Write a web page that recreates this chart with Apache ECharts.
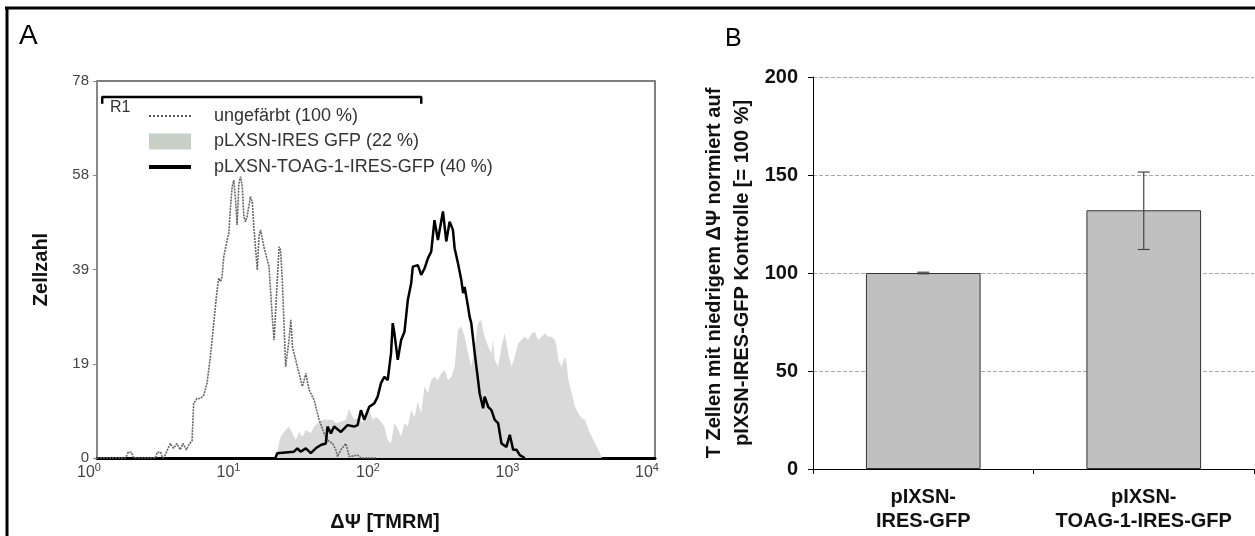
<!DOCTYPE html>
<html><head><meta charset="utf-8">
<script src="https://cdn.jsdelivr.net/npm/echarts@6/dist/echarts.min.js"></script>
<style>html,body{margin:0;padding:0;background:#fff}#c{width:1255px;height:536px}</style>
</head><body><div id="c"></div>
<script>
const FONT = '"Liberation Sans", Arial, Helvetica, sans-serif';

// ---------- Panel A: flow cytometry histogram (x: TMRM fluorescence, log) ----------
const seriesNamesA = ['ungefärbt (100 %)', 'pLXSN-IRES GFP (22 %)', 'pLXSN-TOAG-1-IRES-GFP (40 %)'];

const unstained = [
  [1.0,0],[1.6,0],[1.68,1.2],[1.76,1.2],[1.84,0],[2.62,0],[2.7,1.2],[2.86,1.2],[2.95,0],
  [3.08,0.6],[3.35,3.0],[3.54,2.0],[3.74,3.0],[3.95,1.7],[4.13,3.0],[4.37,1.7],[4.61,3.0],
  [4.8,3.5],[4.93,11.3],[5.21,12.3],[5.51,12.3],[5.82,13.0],[6.15,15.5],[6.5,21.0],
  [6.87,27.9],[7.26,34.8],[7.46,37.2],[7.67,36.5],[7.88,37.5],[8.11,41.7],[8.57,45.1],
  [8.81,46.5],[9.06,52.0],[9.31,56.1],[9.57,57.5],[9.84,53.4],[10.1,48.2],[10.4,56.8],
  [10.7,58.2],[11.0,56.1],[11.3,49.9],[11.6,48.9],[11.9,49.9],[12.6,54.1],[13.0,52.7],
  [13.3,47.9],[14.1,38.9],[14.5,45.8],[14.9,47.2],[15.7,43.7],[17.1,39.6],[18.1,28.6],
  [18.6,24.4],[19.6,36.8],[20.2,43.7],[20.7,43.0],[21.3,36.8],[22.5,18.9],[23.8,24.4],
  [24.5,28.6],[25.2,23.0],[27.3,18.9],[29.7,14.8],[31.4,17.5],[33.1,14.1],[36.0,12.0],
  [39.1,7.9],[42.5,5.1],[44.9,3.7],[48.8,3.0],[51.5,1.7],[53.0,0.3],[56.0,1.7],[60.8,3.0],
  [64.3,0.3],[73.8,0.6],[78.0,0],[100,0]
];

const ctrlGfp = [
  [19.1,0],[20.7,4.4],[22.5,5.8],[23.8,6.5],[25.1,5.1],[26.6,3.7],[28.1,5.4],[29.7,4.4],
  [31.4,5.8],[34.1,5.1],[36.0,6.5],[38.0,7.2],[41.3,7.9],[44.9,7.9],[48.8,7.9],[51.5,7.2],
  [56.0,7.5],[60.8,7.9],[64.3,10.3],[66.1,9.2],[69.8,7.9],[75.9,8.5],[80.2,7.2],[84.7,9.2],
  [89.5,9.9],[94.6,7.9],[100,8.5],[105.6,7.9],[114.8,6.5],[121.3,3.7],[128.2,3.0],[131.8,5.1],
  [135.5,7.2],[143.2,6.1],[151.4,4.4],[160.0,7.2],[169.1,6.5],[178.6,9.9],[188.8,8.5],
  [199.5,11.7],[210.8,9.2],[222.7,14.8],[235.5,13.4],[248.8,16.1],[262.5,16.8],[277.8,16.1],
  [293.5,17.5],[310.3,18.2],[328,16.1],[346.7,16.8],[366,18.9],[387,26.5],[409,27.2],
  [432,25.1],[457,21.7],[482,18.9],[510,23.0],[539,27.9],[569,28.6],[586,26.5],[601,25.1],
  [637,23.0],[672,21.7],[691,24.4],[710,20.3],[751,18.9],[793,23.0],[838,25.8],[885,21.7],
  [936,18.9],[989,21.0],[1045,23.7],[1104,24.4],[1166,25.1],[1233,24.4],[1303,25.8],
  [1377,26.1],[1455,24.4],[1538,25.1],[1625,25.8],[1718,25.1],[1815,25.1],[1918,24.4],
  [1972,23.0],[2028,20.3],[2143,18.9],[2264,21.0],[2328,19.6],[2393,16.1],[2529,13.4],
  [2673,10.6],[2825,9.2],[2985,8.2],[3155,7.9],[3334,5.8],[3523,4.4],[3723,3.0],[3935,1.7],
  [4159,0]
];

const toag = [
  [19,0],[19.6,1.0],[25.8,1.3],[27.3,2.0],[28.8,1.3],[31.4,2.0],[34.1,1.0],[37.0,2.0],
  [40.2,2.7],[43.7,3.0],[44.9,6.5],[47.5,5.1],[50.1,6.5],[56.0,5.4],[62.5,6.8],[69.8,6.5],
  [73.8,6.8],[78.0,9.9],[82.4,7.9],[89.5,10.6],[97.2,11.3],[102.8,12.7],[108.6,15.5],
  [114.8,16.8],[121.3,16.1],[128.2,21.7],[131.8,27.9],[135.5,25.8],[143.2,20.3],[151.4,24.4],
  [160.0,26.1],[169.1,32.7],[178.6,36.1],[183.6,39.6],[199.5,39.9],[210.8,37.9],[222.7,39.2],
  [235.5,41.3],[248.8,42.7],[262.5,49.2],[277.8,45.1],[302,51.0],[319,44.8],[337,48.9],
  [356,47.2],[366,43.4],[387,40.3],[409,36.8],[421,34.1],[432,35.4],[457,31.3],[469,29.2],
  [482,27.9],[510,21.7],[539,16.1],[553,13.4],[586,10.3],[601,12.7],[637,10.6],[672,9.9],
  [710,7.9],[751,7.2],[793,3.0],[861,2.3],[910,4.8],[962,1.7],[1016,1.7],[1074,0.6],[1166,0]
];

// gate R1 (bracket)
const gateR1 = [[1.09,73.3],[1.09,74.7],[211,74.7],[211,73.3]];

const yTicksA = ['0','19','39','58','78'];
const xTickExpA = ['0','1','2','3','4'];

// ---------- Panel B: bar chart ----------
const categoriesB = ['pIXSN-\nIRES-GFP', 'pIXSN-\nTOAG-1-IRES-GFP'];
const valuesB = [100, 132];
const errLowB = [99.6, 112];
const errHighB = [100.4, 151.5];
const yNameB = 'T Zellen mit niedrigem ΔΨ normiert auf\npIXSN-IRES-GFP Kontrolle [= 100 %]';

const chart = echarts.init(document.getElementById('c'), null, {renderer: 'canvas'});

const option = {
  animation: false,
  backgroundColor: '#fff',
  textStyle: {fontFamily: FONT},
  grid: [
    {left: 97, right: 600, top: 81, bottom: 78, show: true, borderColor: '#555', borderWidth: 1.5,
     backgroundColor: 'transparent', outerBoundsMode: 'none', containLabel: false},
    {left: 813, right: 1, top: 77, bottom: 67, outerBoundsMode: 'none', containLabel: false}
  ],
  legend: {
    left: 142, top: 102, orient: 'vertical', itemWidth: 42, itemHeight: 16, itemGap: 7.5,
    selectedMode: false,
    data: [
      {name: seriesNamesA[0], itemStyle: {opacity: 0}, lineStyle: {color: '#555', width: 2, type: [2, 2]}},
      {name: seriesNamesA[1], icon: 'rect', itemStyle: {color: '#c8d0c8'}},
      {name: seriesNamesA[2], itemStyle: {opacity: 0}, lineStyle: {color: '#000', width: 4}}
    ],
    textStyle: {fontFamily: FONT, fontSize: 18, color: '#333', lineHeight: 16, padding: [0, 0, 0, 18]}
  },
  xAxis: [
    {
      type: 'log', logBase: 10, min: 1, max: 10000, gridIndex: 0,
      axisLine: {show: true, lineStyle: {color: '#000', width: 3}},
      axisTick: {show: false}, splitLine: {show: false}, minorTick: {show: false},
      axisLabel: {
        margin: 4, padding: [0, 16, 0, 0],
        formatter: (v, i) => '{b|10}{s|' + xTickExpA[i] + '}',
        rich: {
          b: {fontSize: 16, color: '#444', fontFamily: FONT},
          s: {fontSize: 11, color: '#444', fontFamily: FONT, padding: [0, 0, 10, 0]}
        }
      },
      name: 'ΔΨ [TMRM]', nameLocation: 'middle', nameGap: 54,
      nameTextStyle: {fontFamily: FONT, fontSize: 20, fontWeight: 'bold', color: '#111', padding: [0, 0, 0, 18]}
    },
    {
      type: 'category', gridIndex: 1, data: categoriesB,
      axisLine: {show: true, lineStyle: {color: '#000', width: 1}},
      axisTick: {show: true, length: 5, alignWithLabel: false, lineStyle: {color: '#000'}},
      axisLabel: {fontFamily: FONT, fontSize: 20, fontWeight: 'bold', color: '#111', lineHeight: 24, margin: 16, interval: 0}
    }
  ],
  yAxis: [
    {
      type: 'value', gridIndex: 0, min: 0, max: 78, interval: 19.5,
      axisLine: {show: true, lineStyle: {color: '#888', width: 2}},
      axisTick: {show: true, length: 4, lineStyle: {color: '#888'}},
      splitLine: {show: false},
      axisLabel: {fontFamily: FONT, fontSize: 15, color: '#444', margin: 8,
        formatter: (v, i) => yTicksA[i]},
      name: 'Zellzahl', nameLocation: 'middle', nameRotate: 90, nameGap: 46,
      nameTextStyle: {fontFamily: FONT, fontSize: 20, fontWeight: 'bold', color: '#111'}
    },
    {
      type: 'value', gridIndex: 1, min: 0, max: 200, interval: 50,
      axisLine: {show: true, lineStyle: {color: '#000', width: 1}},
      axisTick: {show: true, length: 5, lineStyle: {color: '#000'}},
      splitLine: {show: true, lineStyle: {color: '#aaa', type: 'dashed', width: 1}},
      axisLabel: {fontFamily: FONT, fontSize: 20, fontWeight: 'bold', color: '#111', margin: 15},
      name: yNameB, nameLocation: 'middle', nameRotate: 90, nameGap: 57,
      nameTextStyle: {fontFamily: FONT, fontSize: 20, fontWeight: 'bold', color: '#111', lineHeight: 28, align: 'center'}
    }
  ],
  series: [
    {
      name: seriesNamesA[1], type: 'line', xAxisIndex: 0, yAxisIndex: 0, data: ctrlGfp,
      symbol: 'none', showSymbol: false, z: 1,
      lineStyle: {width: 0, color: '#d9d9d9'},
      itemStyle: {color: '#c8d0c8'},
      areaStyle: {color: '#d9d9d9', opacity: 1}
    },
    {
      name: seriesNamesA[0], type: 'line', xAxisIndex: 0, yAxisIndex: 0, data: unstained,
      symbol: 'none', showSymbol: false, z: 2,
      lineStyle: {width: 1.6, color: '#666', type: [2, 1]}, itemStyle: {color: '#666'}
    },
    {
      name: seriesNamesA[2], type: 'line', xAxisIndex: 0, yAxisIndex: 0, data: toag,
      symbol: 'none', showSymbol: false, z: 3,
      lineStyle: {width: 2.5, color: '#000'}, itemStyle: {color: '#000'}
    },
    {
      name: 'R1', type: 'line', xAxisIndex: 0, yAxisIndex: 0, data: gateR1,
      symbol: 'none', showSymbol: false, z: 4,
      lineStyle: {width: 2.5, color: '#000'}
    },
    {
      name: 'B', type: 'bar', xAxisIndex: 1, yAxisIndex: 1, data: valuesB,
      barWidth: '52%',
      itemStyle: {color: '#c0c0c0', borderColor: '#333', borderWidth: 1}
    },
    {
      name: 'err', type: 'custom', xAxisIndex: 1, yAxisIndex: 1, z: 5,
      data: valuesB.map((v, i) => [i, errLowB[i], errHighB[i]]),
      encode: {x: 0, y: [1, 2]},
      renderItem: (params, api) => {
        const i = api.value(0);
        const top = api.coord([i, api.value(2)]);
        const bot = api.coord([i, api.value(1)]);
        const hw = 6;
        const style = {stroke: '#444', lineWidth: 1.2};
        return {type: 'group', children: [
          {type: 'line', shape: {x1: top[0], y1: top[1], x2: bot[0], y2: bot[1]}, style},
          {type: 'line', shape: {x1: top[0] - hw, y1: top[1], x2: top[0] + hw, y2: top[1]}, style},
          {type: 'line', shape: {x1: bot[0] - hw, y1: bot[1], x2: bot[0] + hw, y2: bot[1]}, style}
        ]};
      }
    }
  ],
  graphic: [
    {type: 'line', shape: {x1: 5, y1: 8, x2: 1255, y2: 8}, style: {stroke: '#000', lineWidth: 3}},
    {type: 'line', shape: {x1: 7, y1: 7, x2: 7, y2: 536}, style: {stroke: '#000', lineWidth: 3}},
    {type: 'text', left: 19, top: 22, style: {text: 'A', font: '28px ' + FONT, fill: '#000'}},
    {type: 'text', left: 725, top: 27, style: {text: 'B', font: '25px ' + FONT, fill: '#000'}},
    {type: 'text', left: 110, top: 100, style: {text: 'R1', font: '16px ' + FONT, fill: '#333'}}
  ]
};
chart.setOption(option);
</script>
</body></html>
